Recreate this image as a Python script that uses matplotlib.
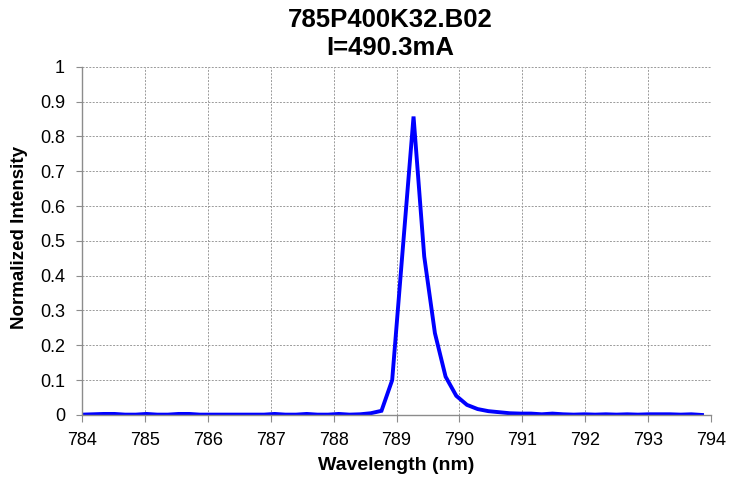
import matplotlib
matplotlib.use("Agg")
import matplotlib.pyplot as plt

title_lines = ["785P400K32.B02", "I=490.3mA"]
x_label = "Wavelength (nm)"
y_label = "Normalized Intensity"

wavelength = [784.00, 784.17, 784.34, 784.51, 784.68, 784.85, 785.02, 785.19, 785.36, 785.53,
              785.70, 785.87, 786.04, 786.21, 786.38, 786.55, 786.72, 786.89, 787.06, 787.23,
              787.40, 787.57, 787.74, 787.91, 788.08, 788.25, 788.42, 788.59, 788.76, 788.93,
              789.10, 789.27, 789.44, 789.61, 789.78, 789.95, 790.12, 790.29, 790.46, 790.63,
              790.80, 790.97, 791.14, 791.31, 791.48, 791.65, 791.82, 791.99, 792.16, 792.33,
              792.50, 792.67, 792.84, 793.01, 793.18, 793.35, 793.52, 793.69, 793.86]
intensity = [0.001, 0.002, 0.003, 0.003, 0.001, 0.001, 0.003, 0.001, 0.001, 0.003,
             0.003, 0.001, 0.001, 0.001, 0.001, 0.001, 0.001, 0.001, 0.003, 0.001,
             0.001, 0.003, 0.001, 0.001, 0.003, 0.001, 0.002, 0.005, 0.012, 0.100,
             0.480, 0.857, 0.455, 0.235, 0.110, 0.055, 0.029, 0.017, 0.011, 0.008,
             0.005, 0.004, 0.004, 0.002, 0.004, 0.002, 0.001, 0.002, 0.001, 0.002,
             0.001, 0.002, 0.001, 0.002, 0.002, 0.002, 0.001, 0.002, 0.000]

x_ticks = [784, 785, 786, 787, 788, 789, 790, 791, 792, 793, 794]
y_ticks = [0, 0.1, 0.2, 0.3, 0.4, 0.5, 0.6, 0.7, 0.8, 0.9, 1]
y_tick_labels = ["0", "0.1", "0.2", "0.3", "0.4", "0.5", "0.6", "0.7", "0.8", "0.9", "1"]

plt.rcParams['font.family'] = ['Liberation Sans', 'DejaVu Sans']

fig = plt.figure(figsize=(7.29, 4.84), dpi=100)
ax = fig.add_axes([0.113, 0.1426, 0.862, 0.7196])

ax.plot(wavelength, intensity, color="#0000ff", linewidth=2.8, solid_joinstyle="miter")

ax.set_xlim(784, 794)
ax.set_ylim(0, 1)
ax.set_xticks(x_ticks)
ax.set_yticks(y_ticks)
ax.set_yticklabels(y_tick_labels)
ax.grid(True, color="#9a9a9a", linestyle=(0, (2, 1.5)), linewidth=0.7)
ax.set_axisbelow(True)

for s in ["top", "right"]:
    ax.spines[s].set_visible(False)
for s in ["left", "bottom"]:
    ax.spines[s].set_color("#8c8c8c")
    ax.spines[s].set_linewidth(1.0)

ax.tick_params(axis="x", direction="out", length=5, color="#8c8c8c",
               labelsize=13, labelcolor="black", pad=7)
ax.tick_params(axis="y", direction="out", length=4.5, color="#8c8c8c",
               labelsize=13, labelcolor="black", pad=8)

fig.text(0.543, 0.0372, x_label, ha="center", va="center", fontsize=14, fontweight="bold")
fig.text(0.0274, 0.509, y_label, ha="center", va="center", rotation=90,
         fontsize=13.5, fontweight="bold")

fig.text(0.535, 0.9436, title_lines[0], ha="center", va="baseline",
         fontsize=18.5, fontweight="bold")
fig.text(0.535, 0.886, title_lines[1], ha="center", va="baseline",
         fontsize=18.5, fontweight="bold")

fig.savefig("out.png", dpi=100)
